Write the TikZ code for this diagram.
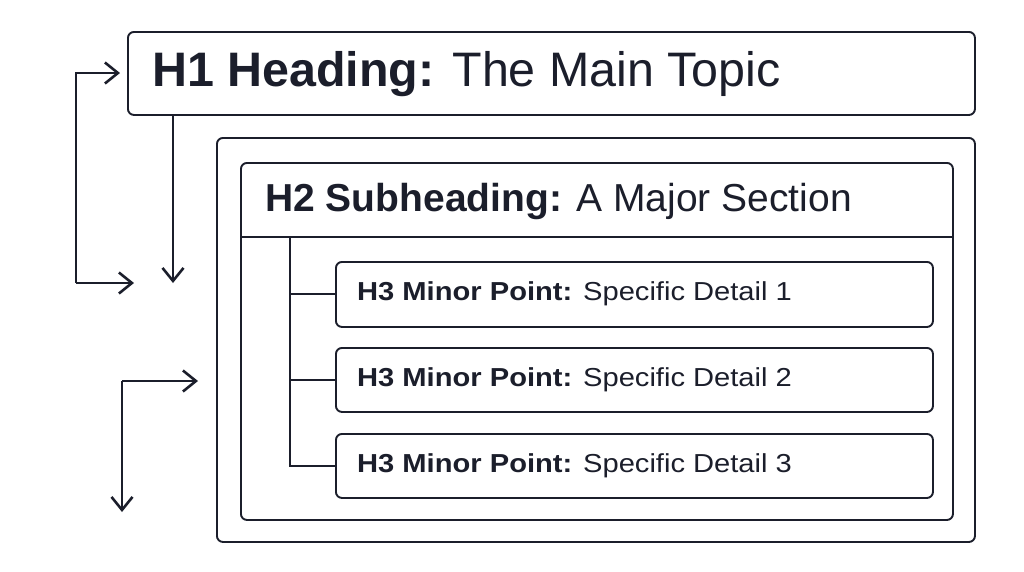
\documentclass[tikz,border=0pt]{standalone}
\usepackage{fontspec}
\setmainfont{Liberation Sans}
\usetikzlibrary{arrows.meta}
\definecolor{ink}{HTML}{1B1E2B}
\tikzset{
  box/.style={draw=ink, line width=1.9pt, rounded corners=6pt},
  conn/.style={draw=ink, line width=2.6pt},
  arr/.style={-{Straight Barb[length=13pt,width=21pt,line width=2.6pt]}},
  lbl/.style={text=ink, anchor=west, inner sep=0pt},
  h3font/.style={font=\fontsize{26}{28}\selectfont},
}
\newcommand{\hthree}[1]{\scalebox{1.12}[1]{\textbf{H3 Minor Point:} Specific Detail #1}}
\begin{document}
\begin{tikzpicture}[x=1pt,y=-1pt]
\useasboundingbox (0,0) rectangle (1024,571);
% boxes
\node[box, minimum width=847pt, minimum height=83pt, anchor=north west] (h1) at (127,31) {};
\node[box, minimum width=758pt, minimum height=404pt, anchor=north west] (outer) at (216,137) {};
\node[box, minimum width=712pt, minimum height=357pt, anchor=north west] (h2) at (240,162) {};
\coordinate (sepL) at (240,237);
\coordinate (sepR) at (952,237);
\draw[box, rounded corners=0pt] (sepL) -- (sepR);
\node[box, minimum width=597pt, minimum height=65pt, anchor=north west] (p1) at (335,261) {};
\node[box, minimum width=597pt, minimum height=64pt, anchor=north west] (p2) at (335,347) {};
\node[box, minimum width=597pt, minimum height=64pt, anchor=north west] (p3) at (335,433) {};
% labels
\node[lbl, font=\fontsize{48.4}{52}\selectfont] (t1) at (152,74) {\textbf{H1 Heading:} The Main Topic};
\node[lbl, font=\fontsize{39}{42}\selectfont] (t2) at (265,201) {\textbf{H2 Subheading:} A Major Section};
\node[lbl, h3font] (t3) at (357,294) {\hthree{1}};
\node[lbl, h3font] (t4) at (357,380) {\hthree{2}};
\node[lbl, h3font] (t5) at (357,466) {\hthree{3}};
% tree
\coordinate (trunk) at (290,237);
\draw[conn, line width=2pt] (trunk) |- (p1.west);
\draw[conn, line width=2pt] (trunk) |- (p2.west);
\draw[conn, line width=2pt] (trunk) |- (p3.west);
% arrows
\coordinate (a1s) at (76,283);
\coordinate (a1e) at (134,283);
\draw[conn, arr] (a1s) -- (a1e);
\draw[conn, arr] (a1s) |- ([xshift=-7pt]h1.west |- 0,73);
\coordinate (a2e) at (173,283);
\draw[conn, arr] (h1.south west -| a2e) -- (a2e);
\coordinate (a3c) at (122,381);
\coordinate (a3e) at (198,381);
\coordinate (a3d) at (122,512);
\draw[conn, arr] (a3c) -- (a3e);
\draw[conn, arr] (a3c) -- (a3d);
\end{tikzpicture}
\end{document}
